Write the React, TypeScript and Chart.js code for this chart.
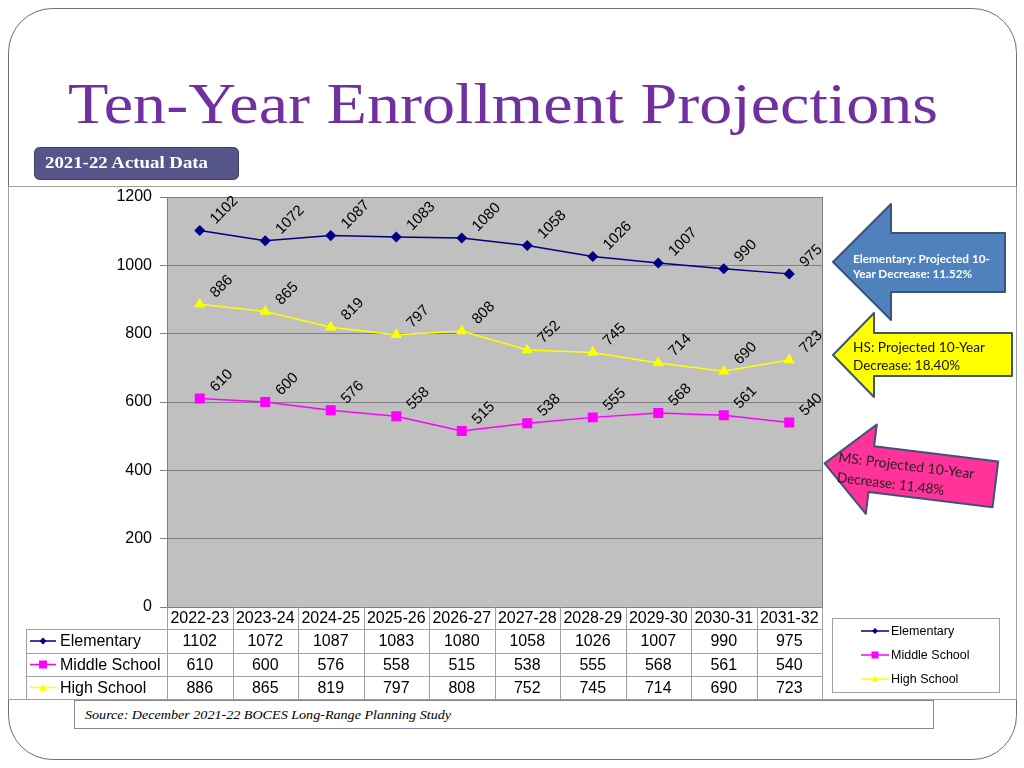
import React, { useEffect, useRef } from 'react';
import { Chart, registerables } from 'chart.js';

Chart.register(...registerables);

// ---- data ----
const years = ['2022-23', '2023-24', '2024-25', '2025-26', '2026-27', '2027-28', '2028-29', '2029-30', '2030-31', '2031-32'];
const elementary = [1102, 1072, 1087, 1083, 1080, 1058, 1026, 1007, 990, 975];
const middleSchool = [610, 600, 576, 558, 515, 538, 555, 568, 561, 540];
const highSchool = [886, 865, 819, 797, 808, 752, 745, 714, 690, 723];
const seriesNames = ['Elementary', 'Middle School', 'High School'];
const seriesColors = ['#000080', '#FF00FF', '#FFFF00'];
const seriesMarkers = ['diamond', 'square', 'triangle'];
const yMin = 0;
const yMax = 1200;
const yStep = 200;

const titleText = 'Ten-Year Enrollment Projections';
const badgeText = '2021-22 Actual Data';
const sourceText = 'Source: December 2021-22 BOCES Long-Range Planning Study';
const elemNote = ['Elementary: Projected 10-', 'Year Decrease: 11.52%'];
const hsNote = ['HS: Projected 10-Year', 'Decrease: 18.40%'];
const msNote = ['MS: Projected 10-Year', 'Decrease: 11.48%'];

const SANS = '"Liberation Sans", Arial, sans-serif';

function drawMarker(ctx: CanvasRenderingContext2D, kind: string, x: number, y: number, color: string, s: number) {
  ctx.save();
  ctx.fillStyle = color;
  ctx.beginPath();
  if (kind === 'diamond') {
    ctx.moveTo(x, y - s);
    ctx.lineTo(x + s, y);
    ctx.lineTo(x, y + s);
    ctx.lineTo(x - s, y);
  } else if (kind === 'square') {
    ctx.rect(x - s, y - s, 2 * s, 2 * s);
  } else {
    ctx.moveTo(x, y - s);
    ctx.lineTo(x + s, y + s * 0.8);
    ctx.lineTo(x - s, y + s * 0.8);
  }
  ctx.closePath();
  ctx.fill();
  ctx.restore();
}

const plotBg = {
  id: 'plotBg',
  beforeDraw(chart: any) {
    const { ctx, chartArea: a } = chart;
    ctx.save();
    ctx.fillStyle = '#C0C0C0';
    ctx.fillRect(a.left, a.top, a.right - a.left, a.bottom - a.top);
    ctx.restore();
  },
  afterDraw(chart: any) {
    const { ctx, chartArea: a } = chart;
    ctx.save();
    ctx.strokeStyle = '#808080';
    ctx.lineWidth = 1;
    ctx.beginPath();
    ctx.moveTo(Math.round(a.right) + 0.5, a.top);
    ctx.lineTo(Math.round(a.right) + 0.5, a.bottom);
    ctx.stroke();
    ctx.restore();
  },
};

const valueLabels = {
  id: 'valueLabels',
  afterDraw(chart: any) {
    const { ctx } = chart;
    ctx.save();
    ctx.font = `15px ${SANS}`;
    ctx.fillStyle = '#000';
    ctx.textAlign = 'left';
    ctx.textBaseline = 'middle';
    chart.data.datasets.forEach((ds: any, i: number) => {
      const meta = chart.getDatasetMeta(i);
      meta.data.forEach((pt: any, j: number) => {
        ctx.save();
        ctx.translate(pt.x + 13, pt.y - 9);
        ctx.rotate(-Math.PI / 4);
        ctx.fillText(String(ds.data[j]), 0, 0);
        ctx.restore();
      });
    });
    ctx.restore();
  },
};

const dataTable = {
  id: 'dataTable',
  afterDraw(chart: any) {
    const { ctx, chartArea: a } = chart;
    const xs = chart.scales.x;
    const n = years.length;
    const colW = (a.right - a.left) / n;
    const rows = [a.bottom, 629, 653, 676, 699];
    const leftX = 26;
    ctx.save();
    ctx.strokeStyle = '#A0A0A0';
    ctx.lineWidth = 1;
    ctx.beginPath();
    for (let r = 1; r < rows.length; r++) {
      ctx.moveTo(leftX, rows[r] + 0.5);
      ctx.lineTo(a.right + 1, rows[r] + 0.5);
    }
    for (let c = 0; c <= n; c++) {
      const x = Math.round(a.left + c * colW) + 0.5;
      ctx.moveTo(x, a.bottom);
      ctx.lineTo(x, rows[4]);
    }
    ctx.moveTo(leftX + 0.5, rows[1]);
    ctx.lineTo(leftX + 0.5, rows[4]);
    ctx.stroke();

    ctx.fillStyle = '#000';
    ctx.font = `16px ${SANS}`;
    ctx.textAlign = 'center';
    ctx.textBaseline = 'middle';
    const allData = [elementary, middleSchool, highSchool];
    years.forEach((y, j) => {
      const cx = xs.getPixelForValue(j);
      ctx.fillText(y, cx, (rows[0] + rows[1]) / 2 + 1);
      allData.forEach((arr, r) => {
        ctx.fillText(String(arr[j]), cx, (rows[r + 1] + rows[r + 2]) / 2 + 1);
      });
    });
    ctx.textAlign = 'left';
    seriesNames.forEach((name, r) => {
      const cy = (rows[r + 1] + rows[r + 2]) / 2;
      ctx.strokeStyle = seriesColors[r];
      ctx.lineWidth = 1.5;
      ctx.beginPath();
      ctx.moveTo(30, cy);
      ctx.lineTo(56, cy);
      ctx.stroke();
      drawMarker(ctx, seriesMarkers[r], 43, cy, seriesColors[r], r === 0 ? 3.5 : 4);
      ctx.fillStyle = '#000';
      ctx.fillText(name, 60, cy + 1);
    });

    // legend box
    ctx.strokeStyle = '#A0A0A0';
    ctx.lineWidth = 1;
    ctx.fillStyle = '#fff';
    ctx.fillRect(832, 618, 167, 74);
    ctx.strokeRect(832.5, 618.5, 167, 74);
    ctx.font = `12.5px ${SANS}`;
    const ly = [631, 655, 679];
    seriesNames.forEach((name, r) => {
      ctx.strokeStyle = seriesColors[r];
      ctx.lineWidth = 1.5;
      ctx.beginPath();
      ctx.moveTo(861, ly[r]);
      ctx.lineTo(889, ly[r]);
      ctx.stroke();
      drawMarker(ctx, seriesMarkers[r], 875, ly[r], seriesColors[r], r === 0 ? 3 : 3.5);
      ctx.fillStyle = '#000';
      ctx.fillText(name, 891, ly[r] + 1);
    });
    ctx.restore();
  },
};

export default function App() {
  const ref = useRef<HTMLCanvasElement>(null);
  useEffect(() => {
    const chart = new Chart(ref.current as HTMLCanvasElement, {
      type: 'line',
      data: {
        labels: years,
        datasets: [
          { label: seriesNames[0], data: elementary, borderColor: seriesColors[0], backgroundColor: seriesColors[0], pointBorderColor: seriesColors[0], pointBackgroundColor: seriesColors[0], pointStyle: 'rectRot', pointRadius: 4.5, borderWidth: 1.5, tension: 0 },
          { label: seriesNames[1], data: middleSchool, borderColor: seriesColors[1], backgroundColor: seriesColors[1], pointBorderColor: seriesColors[1], pointBackgroundColor: seriesColors[1], pointStyle: 'rect', pointRadius: 6, borderWidth: 1.5, tension: 0 },
          { label: seriesNames[2], data: highSchool, borderColor: seriesColors[2], backgroundColor: seriesColors[2], pointBorderColor: seriesColors[2], pointBackgroundColor: seriesColors[2], pointStyle: 'triangle', pointRadius: 5, borderWidth: 1.5, tension: 0 },
        ],
      },
      options: {
        responsive: false,
        animation: false,
        events: [],
        layout: { padding: { left: 107, right: 202, top: 197, bottom: 161 } },
        plugins: { legend: { display: false }, tooltip: { enabled: false } },
        scales: {
          x: { display: false, offset: true },
          y: {
            min: yMin,
            max: yMax,
            ticks: { stepSize: yStep, color: '#000', font: { size: 16, family: SANS }, padding: 8, callback: (v: any) => String(v) },
            grid: { color: '#808080', tickLength: 7, tickColor: '#808080' },
            border: { color: '#808080' },
            afterFit: (s: any) => { s.width = 60; },
          },
        },
      },
      plugins: [plotBg, valueLabels, dataTable],
    } as any);
    return () => chart.destroy();
  }, []);

  const arrowStroke = '#3B5478';
  return (
    <div style={{ position: 'absolute', left: 0, top: 0, width: 1024, height: 768, overflow: 'hidden' }}>
      <canvas ref={ref} width={1024} height={768} style={{ position: 'absolute', left: 0, top: 0 }} />
      <svg width={1024} height={768} style={{ position: 'absolute', left: 0, top: 0, pointerEvents: 'none' }}>
        <rect x={8.5} y={8.5} width={1008} height={751} rx={44} ry={44} fill="none" stroke="#6E6E6E" strokeWidth={1} />
        <rect x={8.5} y={186.5} width={1008} height={513} fill="none" stroke="#A0A0A0" strokeWidth={1} />
        <text x={68} y={123} fontFamily="'Liberation Serif', 'DejaVu Serif', serif" fontSize={58} fill="#7030A0" textLength={870} lengthAdjust="spacingAndGlyphs">{titleText}</text>
        <rect x={34.5} y={147.5} width={204} height={32} rx={5} ry={5} fill="#56558A" stroke="#3F3E6C" strokeWidth={1} />
        <text x={45} y={168} fontFamily="'Liberation Serif', serif" fontSize={16} fontWeight="bold" fill="#fff" textLength={163} lengthAdjust="spacingAndGlyphs">{badgeText}</text>

        {/* Elementary arrow */}
        <polygon points="833,262 891,204 891,233 1005,233 1005,292 891,292 891,320" fill="#4F81BD" stroke={arrowStroke} strokeWidth={2} strokeLinejoin="round" />
        <text x={853} y={263} fontFamily="Lato, 'Open Sans', sans-serif" fontSize={11} fontWeight="bold" fill="#fff" textLength={137} lengthAdjust="spacingAndGlyphs">{elemNote[0]}</text>
        <text x={853} y={278} fontFamily="Lato, 'Open Sans', sans-serif" fontSize={11} fontWeight="bold" fill="#fff" textLength={119} lengthAdjust="spacingAndGlyphs">{elemNote[1]}</text>

        {/* HS arrow */}
        <polygon points="833,355 874,313 874,333 1012,333 1012,376 874,376 874,397" fill="#FFFF00" stroke={arrowStroke} strokeWidth={2} strokeLinejoin="round" />
        <text x={853} y={352} fontFamily="Lato, 'Open Sans', sans-serif" fontSize={14} fill="#111" textLength={132} lengthAdjust="spacingAndGlyphs">{hsNote[0]}</text>
        <text x={853} y={370} fontFamily="Lato, 'Open Sans', sans-serif" fontSize={14} fill="#111" textLength={107} lengthAdjust="spacingAndGlyphs">{hsNote[1]}</text>

        {/* MS arrow (tilted) */}
        <g transform="translate(911,474) rotate(7)">
          <polygon points="-87,0 -40,-45 -40,-23 85,-23 85,23 -40,23 -40,45" fill="#FF3399" stroke={arrowStroke} strokeWidth={2} strokeLinejoin="round" />
          <text x={-74} y={-3} fontFamily="Lato, 'Open Sans', sans-serif" fontSize={14} fill="#222" textLength={137} lengthAdjust="spacingAndGlyphs">{msNote[0]}</text>
          <text x={-73} y={17} fontFamily="Lato, 'Open Sans', sans-serif" fontSize={14} fill="#222" textLength={108} lengthAdjust="spacingAndGlyphs">{msNote[1]}</text>
        </g>

        {/* source box */}
        <rect x={74.5} y={700.5} width={859} height={28} fill="#fff" stroke="#8585A8" strokeWidth={1} />
        <text x={85} y={719} fontFamily="'Liberation Serif', serif" fontStyle="italic" fontSize={13} fill="#000" textLength={366} lengthAdjust="spacingAndGlyphs">{sourceText}</text>
      </svg>
    </div>
  );
}
